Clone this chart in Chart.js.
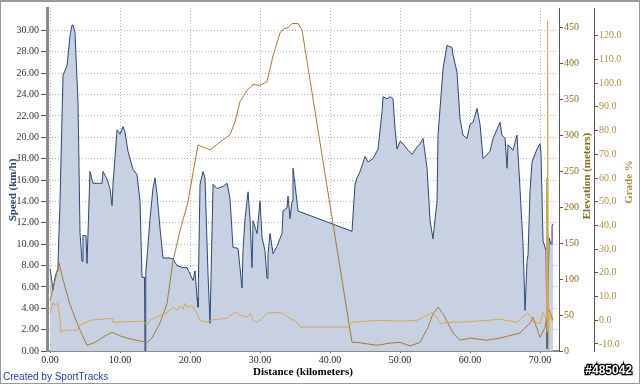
<!DOCTYPE html>
<html>
<head>
<meta charset="utf-8">
<script src="https://cdn.jsdelivr.net/npm/chart.js@4.4.1/dist/chart.umd.min.js"></script>
<style>
  html, body { margin: 0; padding: 0; background: #fff; }
  canvas { display: block; }
</style>
</head>
<body>
<canvas id="chart" width="640" height="384"></canvas>
<script>
// values
const speedKm = [0, 0.29, 0.43, 0.71, 1.0, 1.14, 1.43, 1.86, 2.43, 2.86, 3.14, 3.29, 3.57, 4.0, 4.29, 4.57, 4.71, 5.14, 5.29,
  5.71, 6.14, 7.43, 7.57, 8.14, 8.57, 8.86, 9.0, 9.57, 10.0, 10.43, 10.71, 11.14, 11.43, 11.86, 12.43, 12.86, 13.14, 13.5,
  13.57, 13.64, 13.71, 14.29, 14.71, 15.0, 15.29, 15.71, 16.14, 17.14, 17.57, 18.14, 19.0, 19.57, 20.0, 20.43, 20.71, 21.0,
  21.14, 21.43, 21.86, 22.14, 22.57, 22.86, 23.29, 23.86, 24.71, 25.29, 25.71, 26.14, 26.86, 27.43, 27.57, 27.86, 28.29,
  28.57, 28.86, 29.0, 29.57, 30.0, 30.29, 30.71, 31.0, 31.14, 31.43, 31.86, 32.43, 33.14, 33.29, 33.86, 34.0, 34.29, 34.57,
  34.71, 35.0, 35.43, 43.14, 43.57, 43.86, 44.29, 45.0, 45.43, 46.14, 46.86, 47.43, 47.57, 48.14, 48.57, 49.0, 49.29, 49.57,
  50.0, 50.43, 51.0, 51.71, 52.43, 52.86, 53.29, 53.86, 54.29, 54.71, 55.29, 55.43, 56.14, 56.71, 57.43, 57.57, 58.14, 58.57,
  59.0, 59.57, 60.0, 60.43, 61.0, 61.43, 61.86, 62.86, 63.29, 64.29, 64.57, 65.0, 65.29, 65.43, 66.14, 66.71, 67.14, 67.57,
  67.86, 68.14, 68.29, 68.57, 68.86, 69.57, 70.0, 70.14, 70.43, 70.86, 71.0, 71.29, 71.57, 71.71, 71.86];
const speedKmh = [7.7, 6.4, 5.7, 6.9, 7.5, 8.2, 14.0, 25.8, 26.7, 29.5, 30.5, 30.5, 29.8, 23.3, 11.0, 8.4, 10.8, 10.8, 8.2,
  16.8, 15.7, 15.7, 16.8, 16.1, 15.2, 13.6, 15.6, 20.7, 20.3, 21.0, 20.5, 18.7, 18.0, 17.0, 16.5, 14.0, 6.9, 6.9,
  0.0, 7.0, 7.2, 12.4, 15.2, 16.2, 14.7, 11.5, 8.7, 8.7, 8.6, 8.0, 7.8, 7.8, 7.2, 6.6, 7.5, 5.0,
  4.1, 15.6, 16.8, 16.2, 7.2, 2.6, 15.6, 15.2, 15.4, 15.7, 14.3, 9.7, 9.6, 5.9, 9.4, 12.4, 14.9,
  12.4, 7.8, 12.2, 11.0, 14.0, 10.6, 9.4, 6.8, 9.1, 11.0, 9.1, 9.8, 11.0, 13.1, 13.4, 14.5, 12.4, 14.0,
  17.1, 15.6, 13.1, 11.2, 15.6, 16.2, 16.8, 18.2, 17.7, 18.0, 18.9, 22.4, 23.8, 23.6, 23.8, 23.6, 20.8, 18.9,
  19.6, 19.4, 18.9, 18.4, 19.1, 19.4, 19.9, 17.1, 12.2, 10.5, 14.0, 20.2, 26.4, 28.6, 28.4, 27.7, 26.1, 21.7,
  20.2, 19.9, 21.2, 21.4, 22.7, 21.2, 18.0, 18.7, 19.9, 21.4, 20.2, 19.9, 17.1, 19.3, 18.8, 20.2, 15.2, 10.0,
  3.8, 8.4, 9.0, 15.0, 17.7, 18.9, 19.4, 18.5, 10.3, 9.4, 0.2, 10.6, 10.0, 11.7, 11.9];

const elevKm = [0, 0.71, 1.29, 1.71, 2.86, 4.29, 5.29, 6.43, 7.86, 8.86, 10.0, 11.43, 12.86, 13.86, 14.57, 15.71, 16.71,
  17.57, 18.57, 19.71, 20.29, 21.14, 21.86, 22.86, 24.29, 25.71, 26.43, 27.14, 28.14, 29.0, 30.0, 31.0, 31.86, 32.86,
  33.43, 34.0, 34.57, 35.43, 36.0, 43.14, 43.86, 46.71, 48.57, 50.0, 51.43, 52.86, 54.0, 54.71, 55.43, 56.14, 57.57,
  58.57, 60.0, 62.43, 64.29, 67.14, 68.57, 69.0, 70.0, 70.71, 71.14, 71.86];
const elevM = [70, 98, 123, 105, 64, 29, 8, 12, 21, 26, 21, 17, 14, 12, 18, 39, 66,
  126, 167, 208, 240, 287, 284, 280, 291, 301, 319, 347, 363, 371, 370, 375, 411, 443,
  449, 450, 456, 456, 447, 12, 12, 8, 11, 12, 7, 12, 33, 52, 61, 52, 25,
  15, 18, 15, 18, 25, 39, 47, 19, 33, 61, 43];

const gradeKm = [0, 0.43, 0.71, 1.14, 1.43, 1.57, 1.86, 3.86, 4.29, 5.29, 5.71, 8.86, 9.0, 13.29, 13.86, 14.29, 15.71,
  16.71, 17.57, 18.14, 18.57, 19.0, 19.29, 19.71, 20.29, 21.0, 21.43, 22.43, 22.86, 23.86, 25.29, 26.14, 26.71, 27.14,
  28.14, 28.57, 29.0, 29.57, 30.0, 31.0, 32.43, 33.29, 34.29, 35.29, 35.71, 42.57, 43.14, 47.14, 50.0, 52.43, 53.86,
  54.57, 55.0, 55.71, 57.57, 59.0, 64.29, 66.71, 68.14, 68.57, 69.0, 70.0, 70.43, 70.86, 70.93, 71.0, 71.07, 71.21,
  71.29, 71.86];
const gradePct = [2.9, 7.5, 6.3, 7.1, 0, -5.4, -4.2, -4.2, -2.1, -0.8, 0, 0.8, -0.8, -0.4, -2.1, 0, 2.1,
  3.3, 5.4, 4.2, 5.9, 4.6, 7.1, 5.4, 6.3, 2.9, 0, -0.8, 0, 0.4, 0.8, 2.9, 3.3, 2.1,
  1.3, 2.9, 0, -0.8, 0, 2.9, 3.3, 2.9, 0.8, -0.8, -2.9, -2.9, -0.8, 0, -0.4, 0, 2.1,
  3.3, 2.1, -1.3, -0.8, -0.8, 0.4, -0.8, 2.9, 2.1, -0.8, -1.3, 3.3, 0.8, 60, -5, 126, -12.5,
  2.1, -0.8];

const distTicks = [0, 10, 20, 30, 40, 50, 60, 70];
const speedTicks = [0, 2, 4, 6, 8, 10, 12, 14, 16, 18, 20, 22, 24, 26, 28, 30];
const elevTicks = [0, 50, 100, 150, 200, 250, 300, 350, 400, 450];
const gradeTicks = [-10, 0, 10, 20, 30, 40, 50, 60, 70, 80, 90, 100, 110, 120];

const SERIF = "'Liberation Serif', 'Times New Roman', serif";
const SANS = "'Liberation Sans', Arial, sans-serif";

function pts(xs, ys) {
    return xs.map((x, i) => ({ x: x, y: ys[i] }));
}

function fixTicks(list) {
    return (scale) => { scale.ticks = list.map(v => ({ value: v })); };
}

const decorations = {
    id: 'decorations',
    beforeDraw(chart) {
        const ctx = chart.ctx;
        ctx.save();
        ctx.fillStyle = '#ffffff';
        ctx.fillRect(0, 0, chart.width, chart.height);
        ctx.restore();
    },
    afterDraw(chart) {
        const ctx = chart.ctx;
        ctx.save();

        // rotated axis titles, reading bottom to top
        const vTitle = (text, x, y, color) => {
            ctx.save();
            ctx.translate(x, y);
            ctx.rotate(-Math.PI / 2);
            ctx.font = 'bold 11px ' + SERIF;
            ctx.fillStyle = color;
            ctx.textAlign = 'center';
            ctx.textBaseline = 'middle';
            ctx.fillText(text, 0, 0);
            ctx.restore();
        };
        vTitle('Speed (km/h)', 13, 190, '#2b4672');
        vTitle('Elevation (meters)', 587, 176, '#8a6a1c');
        vTitle('Grade %', 629, 182, '#b08c3c');

        ctx.font = '10px ' + SANS;
        ctx.fillStyle = '#2a3aa8';
        ctx.textAlign = 'left';
        ctx.textBaseline = 'middle';
        ctx.fillText('Created by SportTracks', 3, 377);

        ctx.font = 'bold 12px ' + SANS;
        ctx.textAlign = 'right';
        ctx.lineWidth = 2.5;
        ctx.strokeStyle = '#000';
        ctx.strokeText('#485042', 632, 371);
        ctx.fillStyle = '#fff';
        ctx.fillText('#485042', 632, 371);

        // frame
        ctx.strokeStyle = '#999';
        ctx.lineWidth = 1;
        ctx.strokeRect(0.5, 0.5, chart.width - 1, chart.height - 1);
        ctx.fillStyle = '#999';
        ctx.fillRect(0, 0, chart.width, 2);
        ctx.restore();
    }
};

new Chart(document.getElementById('chart'), {
    type: 'line',
    data: {
        datasets: [
            {
                label: 'Grade',
                data: pts(gradeKm, gradePct),
                yAxisID: 'yGrade',
                borderColor: '#d8a458',
                borderWidth: 1,
                pointRadius: 0,
                fill: false,
                order: 1
            },
            {
                label: 'Elevation',
                data: pts(elevKm, elevM),
                yAxisID: 'yElev',
                borderColor: '#a47c34',
                borderWidth: 1,
                pointRadius: 0,
                fill: false,
                order: 2
            },
            {
                label: 'Speed',
                data: pts(speedKm, speedKmh),
                yAxisID: 'y',
                borderColor: '#2c4676',
                backgroundColor: '#c8d1e1',
                borderWidth: 1,
                pointRadius: 0,
                fill: 'origin',
                order: 3
            }
        ]
    },
    options: {
        responsive: false,
        animation: false,
        devicePixelRatio: 1,
        layout: { padding: { top: 5, left: 0, right: 0, bottom: 0 } },
        plugins: {
            legend: { display: false },
            tooltip: { enabled: false }
        },
        elements: { line: { tension: 0 } },
        scales: {
            x: {
                type: 'linear',
                min: -0.43,
                max: 72.71,
                afterBuildTicks: fixTicks(distTicks),
                afterFit: (s) => { s.height = 33; },
                ticks: {
                    callback: (v) => v.toFixed(2),
                    font: { family: SERIF, size: 10 },
                    color: '#222',
                    padding: 1,
                    maxRotation: 0
                },
                grid: { color: '#b4b4b4', tickLength: 2, tickColor: '#666', tickBorderDash: [] },
                border: { color: '#8a8a8a', width: 2, dash: [1, 2] },
                title: {
                    display: true,
                    text: 'Distance (kilometers)',
                    color: '#000',
                    font: { family: SERIF, size: 11, weight: 'bold' },
                    padding: { top: 0, bottom: 5 }
                }
            },
            y: {
                position: 'left',
                min: 0,
                max: 32.1,
                afterBuildTicks: fixTicks(speedTicks),
                afterFit: (s) => { s.width = 47; },
                ticks: {
                    callback: (v) => v.toFixed(2),
                    font: { family: SERIF, size: 10 },
                    color: '#333',
                    padding: 2
                },
                grid: { color: '#b4b4b4', tickLength: 6, tickColor: '#555', tickBorderDash: [] },
                border: { color: '#8a8a8a', width: 3, dash: [1, 2] }
            },
            yElev: {
                position: 'right',
                min: 0,
                max: 477.6,
                afterBuildTicks: fixTicks(elevTicks),
                afterFit: (s) => { s.width = 35; },
                ticks: {
                    font: { family: SERIF, size: 10 },
                    color: '#8a6a1c',
                    padding: 1
                },
                grid: { drawOnChartArea: false, tickLength: 4, tickColor: '#555' },
                border: { color: '#555', width: 1 }
            },
            yGrade: {
                position: 'right',
                min: -12.96,
                max: 131.7,
                afterBuildTicks: fixTicks(gradeTicks),
                afterFit: (s) => { s.width = 46; },
                ticks: {
                    callback: (v) => v.toFixed(1),
                    font: { family: SERIF, size: 10 },
                    color: '#b08c3c',
                    padding: 1
                },
                grid: { drawOnChartArea: false, tickLength: 4, tickColor: '#555' },
                border: { color: '#555', width: 1 }
            }
        }
    },
    plugins: [decorations]
});
</script>
</body>
</html>
